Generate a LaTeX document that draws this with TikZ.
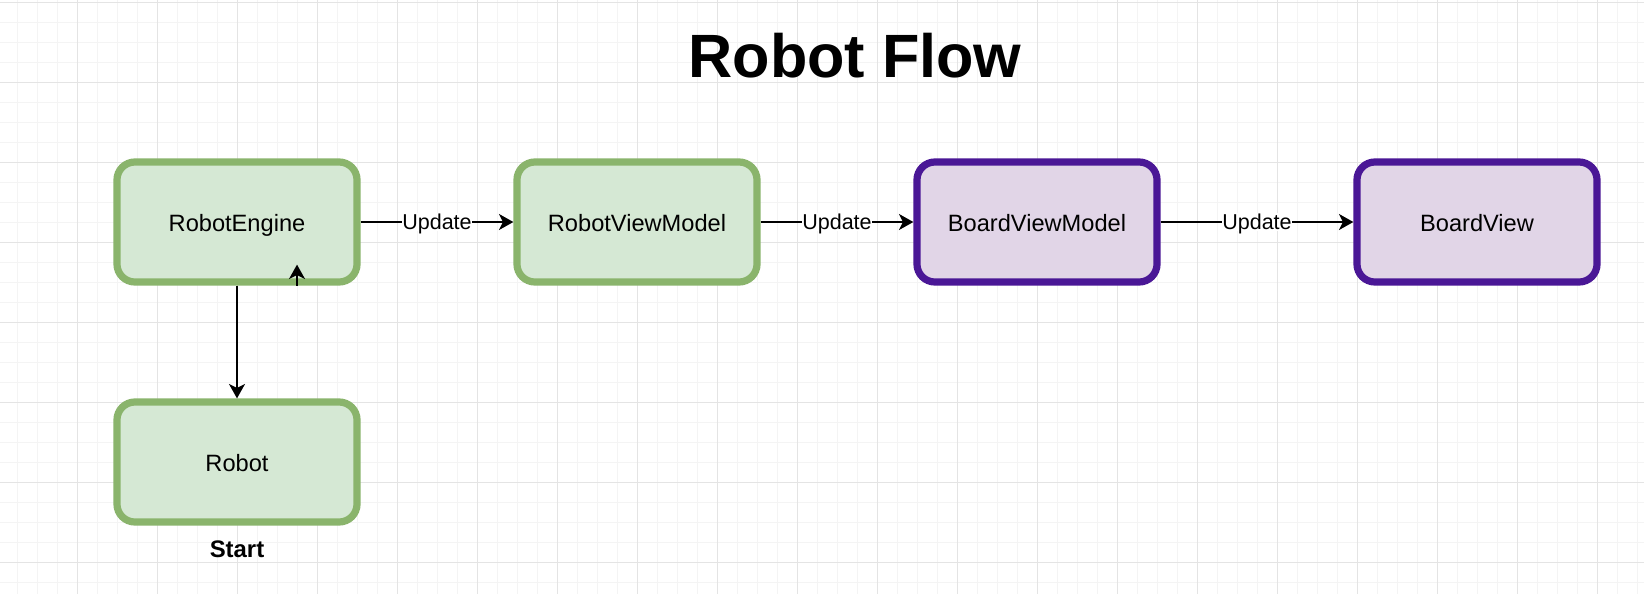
\documentclass[tikz,border=0pt]{standalone}
\usepackage{fontspec}
\setmainfont{Liberation Sans}
\usepackage{xcolor}
\usetikzlibrary{
	arrows.meta,   %箭头
	positioning    %定位
}
\definecolor{greenfill}{HTML}{D5E8D4}
\definecolor{greenline}{HTML}{8AB46C}
\definecolor{purplefill}{HTML}{E1D5E7}
\definecolor{purpleline}{HTML}{4A1796}
\definecolor{gridminor}{HTML}{F4F4F4}
\definecolor{gridmajor}{HTML}{E4E4E4}
\tikzstyle{greenbox}=[rectangle,
rounded corners=0.45cm,
minimum width=6cm,
minimum height=3cm,
line width=0.18cm,
draw=greenline,
fill=greenfill,
text height=14pt,
text depth=0.8pt,
font=\fontsize{16.8}{20}\selectfont]
\tikzstyle{purplebox}=[greenbox,
draw=purpleline,
fill=purplefill]
\tikzset{
	every picture/.style={
		>={Stealth[length=0.36cm,width=0.4cm,inset=0.1cm]}
	},
	flow/.style={->,line width=0.05cm,black},
	updatelabel/.style={fill=white,inner sep=0.5pt,text height=11.5pt,text depth=0.5pt,
		font=\fontsize{15.3}{18}\selectfont},
	titletext/.style={font=\fontsize{43.5}{50}\selectfont\bfseries},
	starttext/.style={font=\fontsize{17}{20}\selectfont\bfseries}
}
\begin{document}
\begin{tikzpicture}[x=0.025cm,y=-0.025cm]
\useasboundingbox[fill=white] (0,0) rectangle (1644,594);
% grid
\foreach \x in {17,37,...,1637} \draw[gridminor,line width=0.025cm] (\x,0) -- (\x,594);
\foreach \y in {2,22,...,582} \draw[gridminor,line width=0.025cm] (0,\y) -- (1644,\y);
\foreach \x in {77,157,...,1597} \draw[gridmajor,line width=0.025cm] (\x,0) -- (\x,594);
\foreach \y in {2,82,...,562} \draw[gridmajor,line width=0.025cm] (0,\y) -- (1644,\y);
% title
\node[titletext,anchor=base] (title) at (855,77) {Robot Flow};
% boxes
\node[greenbox] (engine) at (237,222) {RobotEngine};
\node[greenbox] (robotvm) at (637,222) {RobotViewModel};
\node[purplebox] (boardvm) at (1037,222) {BoardViewModel};
\node[purplebox] (boardview) at (1477,222) {BoardView};
\node[greenbox] (robot) at (237,462) {Robot};
\node[starttext] (start) at (237,549) {Start};
% connectors
\draw[flow] (engine) -- node[updatelabel] {Update} (robotvm);
\draw[flow] (robotvm) -- node[updatelabel] {Update} (boardvm);
\draw[flow] (boardvm) -- node[updatelabel] {Update} (boardview);
\draw[flow] (engine) -- (robot);
\coordinate (tick) at ([xshift=1.5cm]engine.south);
\draw[flow] (tick) -- ++(0,-21);
\end{tikzpicture}
\end{document}
